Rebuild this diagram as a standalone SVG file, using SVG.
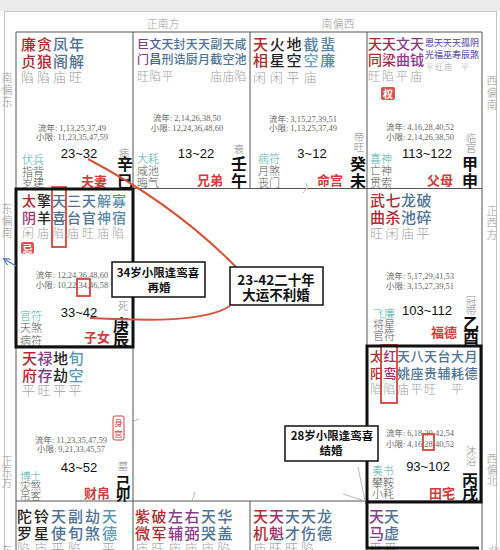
<svg xmlns="http://www.w3.org/2000/svg" width="500" height="550" viewBox="0 0 500 550">
<defs>
<style>
text{font-family:"Noto Sans CJK SC","Noto Sans",sans-serif;}
.st{font-size:15px;font-weight:500;}
.r{fill:#b02a2e}.k{fill:#222}.p{fill:#8a3a8a}.m{fill:#a0306a}.b{fill:#4f7394}.t{fill:#5a9ab0}.v{fill:#6a5ab0}
.br{font-size:13px;fill:#a0a0a0;font-weight:300}
.ln{font-family:"Liberation Serif","Noto Sans CJK SC",serif;font-size:8.5px;fill:#666;text-anchor:middle}
.rg{font-family:"Liberation Sans",sans-serif;font-size:13px;fill:#111;text-anchor:middle}
.ls{font-size:10.5px;fill:#8a8a8a;font-weight:300}
.sb{font-size:16px;fill:#111;font-weight:700}
.cs{text-anchor:middle}
.gd{font-size:11px;fill:#555;font-weight:300}
.gt{fill:#4fb0a8}
.pn{font-size:13px;font-weight:700;fill:#d23c3c;text-anchor:end}
.dir{font-size:11px;fill:#9a9a9a;text-anchor:middle;font-weight:300}
.grid{stroke:#555;stroke-width:1;fill:none}
.thick{stroke:#111;stroke-width:3;fill:none}
.hl{stroke:#d9433a;stroke-width:1.8;fill:none}
.badge{fill:#d9534f}
.bt{font-size:10px;fill:#fff;text-anchor:middle;font-weight:700}
.ann{font-weight:700;fill:#111;text-anchor:middle}
.abox{fill:#fff;stroke:#111;stroke-width:1.5}
.curve{stroke:#d2553c;stroke-width:2;fill:none}
.tri{stroke:#b8b8b8;stroke-width:1;fill:none}
</style>
<marker id="ah" viewBox="0 0 10 10" refX="9" refY="5" markerWidth="6" markerHeight="6" orient="auto-start-reverse">
<path d="M0 0 L10 5 L0 10" fill="none" stroke="#4a7ab0" stroke-width="1.5"/>
</marker>
</defs>
<rect x="0" y="0" width="500" height="550" fill="#fff"/>
<rect x="0" y="0" width="500" height="11" fill="#ececec"/>
<rect x="4.5" y="11.5" width="492" height="560" fill="none" stroke="#c4c4c4" stroke-width="1"/>

<g id="directions">
<text class="dir" x="163" y="28">正南方</text>
<text class="dir" x="338" y="28">南偏西</text>
<text class="dir" x="7" y="82">南<tspan x="7" dy="12">偏</tspan><tspan x="7" dy="12">东</tspan></text>
<text class="dir" x="492" y="85">西<tspan x="492" dy="12">偏</tspan><tspan x="492" dy="12">南</tspan></text>
<text class="dir" x="7" y="213">东<tspan x="7" dy="12">偏</tspan><tspan x="7" dy="12">南</tspan></text>
<text class="dir" x="492" y="215">正<tspan x="492" dy="12">西</tspan><tspan x="492" dy="12">方</tspan></text>
<text class="dir" x="7" y="465">正<tspan x="7" dy="11">东</tspan><tspan x="7" dy="11">方</tspan></text>
<text class="dir" x="492" y="463">西<tspan x="492" dy="11">偏</tspan><tspan x="492" dy="11">北</tspan></text>
<text class="dir" x="7" y="555">东</text>
<text class="dir" x="494" y="555">北</text>
</g>

<g id="grid">
<path class="grid" d="M16 32H482M16 188.5H482M16 346H133M367 346H482M16 501H482M16 32V560M133 32V560M250 32V188.5M250 501V560M367 32V560M482 32V560"/>
</g>

<g id="palace-fuqi">
<text class="st" x="21" y="50" letter-spacing="1"><tspan class="r">廉贪</tspan><tspan class="b">凤年</tspan><tspan x="21" dy="17" class="r">贞狼</tspan><tspan class="b">阁解</tspan><tspan x="21" dy="15" class="br" letter-spacing="3">陷陷庙旺</tspan></text>
<text class="ln" x="72" y="131">流年: 1,13,25,37,49<tspan x="72" dy="9">小限: 11,23,35,47,59</tspan></text>
<text class="rg" x="79" y="158">23~32</text>
<text class="cs" x="124" y="157"><tspan class="ls">病</tspan><tspan class="sb" x="125" dy="13">辛</tspan><tspan class="sb" x="125" dy="17">巳</tspan></text>
<text class="gd" x="22" y="164"><tspan class="gt">伏兵</tspan><tspan x="22" dy="11.5">指背</tspan><tspan x="22" dy="11.5">岁建</tspan></text>
<text class="pn" x="107" y="186">夫妻</text>
</g>

<g id="palace-xiongdi">
<text class="st" x="137" y="49" style="font-size:12px" letter-spacing="0.2"><tspan class="p">巨</tspan><tspan fill="#4a5aa0">文</tspan><tspan class="b">天封天天副天咸</tspan><tspan x="137" dy="15" class="p">门</tspan><tspan fill="#4a5aa0">昌</tspan><tspan class="b">刑诰厨月截空池</tspan><tspan x="137" dy="17" class="br" style="font-size:12px">旺陷平</tspan><tspan x="210" class="br" style="font-size:12px">庙庙陷</tspan></text>
<text class="ln" x="187" y="121">流年: 2,14,26,38,50<tspan x="187" dy="10">小限: 12,24,36,48,60</tspan></text>
<text class="rg" x="196" y="158">13~22</text>
<text class="cs" x="239" y="153"><tspan class="ls">衰</tspan><tspan class="sb" x="239" dy="17">壬</tspan><tspan class="sb" x="239" dy="17">午</tspan></text>
<text class="gd" x="137" y="163"><tspan class="gt">大耗</tspan><tspan x="137" dy="12">咸池</tspan><tspan x="137" dy="12">晦气</tspan></text>
<text class="pn" x="223" y="185">兄弟</text>
</g>

<g id="palace-ming">
<text class="st" x="253" y="50" letter-spacing="1.8"><tspan class="r">天</tspan><tspan class="k">火地</tspan><tspan fill="#5a86a8">截蜚</tspan><tspan x="253" dy="16" class="r">相</tspan><tspan class="k">星空</tspan><tspan fill="#6aa4b8">空</tspan><tspan fill="#5a86a8">廉</tspan><tspan x="253" dy="16" class="br" letter-spacing="3.8">闲闲平庙</tspan></text>
<text class="ln" x="303" y="122">流年: 3,15,27,39,51<tspan x="303" dy="9">小限: 1,13,25,37,49</tspan></text>
<text class="rg" x="312" y="158">3~12</text>
<text class="cs" x="359" y="141"><tspan class="ls">帝</tspan><tspan class="ls" x="359" dy="10">旺</tspan><tspan class="sb" x="358" dy="19">癸</tspan><tspan class="sb" x="358" dy="17">未</tspan></text>
<text class="gd" x="258" y="163"><tspan class="gt">病符</tspan><tspan x="258" dy="12">月煞</tspan><tspan x="258" dy="12">丧门</tspan></text>
<text class="pn" x="343" y="185">命宫</text>
</g>

<g id="palace-fumu">
<text class="st" x="368" y="49" style="font-size:14px"><tspan class="r">天</tspan><tspan fill="#9a3050">天</tspan><tspan class="p">文天</tspan><tspan x="425" dy="-3" class="v" style="font-size:9px">恩天天天孤阴</tspan><tspan x="368" dy="19" class="r">同</tspan><tspan fill="#9a3050">梁</tspan><tspan class="p">曲钺</tspan><tspan x="425" dy="-7" class="v" style="font-size:9px">光福巫寿辰煞</tspan><tspan x="426" dy="12" class="br" style="font-size:8px" letter-spacing="1">平旺庙</tspan><tspan x="461" class="br" style="font-size:8px">平</tspan><tspan x="368" dy="11" class="br" style="font-size:12px" letter-spacing="2">旺陷平庙</tspan></text>
<rect class="badge" x="381" y="87" width="14" height="13" rx="2"/>
<text class="bt" x="388" y="97.5">权</text>
<text class="ln" x="420" y="130">流年: 4,16,28,40,52<tspan x="420" dy="10">小限: 2,14,26,38,50</tspan></text>
<text class="rg" x="427" y="158">113~122</text>
<text class="cs" x="471" y="142"><tspan class="ls">临</tspan><tspan class="ls" x="471" dy="10">官</tspan><tspan class="sb" x="470" dy="18">甲</tspan><tspan class="sb" x="470" dy="17">申</tspan></text>
<text class="gd" x="370" y="163"><tspan class="gt">喜神</tspan><tspan x="370" dy="12">亡神</tspan><tspan x="370" dy="12">贯索</tspan></text>
<text class="pn" x="453" y="185">父母</text>
</g>

<g id="palace-zinv">
<text class="st" x="22" y="206" style="font-size:14px" letter-spacing="1"><tspan class="r">太</tspan><tspan class="k">擎</tspan><tspan class="b">天三天</tspan><tspan fill="#5a8aa8">解寡</tspan><tspan x="22" dy="17" class="m">阴</tspan><tspan class="k">羊</tspan><tspan class="b">喜台官</tspan><tspan fill="#5a8aa8">神宿</tspan><tspan x="22" dy="15" class="br" style="font-size:12px" letter-spacing="3">闲庙陷庙旺庙陷</tspan></text>
<rect class="hl" x="52" y="187" width="14" height="60"/>
<rect class="badge" x="21" y="242" width="13" height="12" rx="2"/>
<text class="bt" x="27.5" y="252.5">忌</text>
<text class="ln" x="72" y="278">流年: 12,24,36,48,60<tspan x="72" dy="10">小限: 10,22,34,46,58</tspan></text>
<rect class="hl" x="77" y="279" width="13" height="17"/>
<text class="rg" x="79" y="317">33~42</text>
<text class="cs" x="123" y="310"><tspan class="ls">死</tspan><tspan class="sb" x="121" dy="21">庚</tspan><tspan class="sb" x="121" dy="15">辰</tspan></text>
<text class="gd" x="20" y="320"><tspan class="gt">官符</tspan><tspan x="20" dy="12">天煞</tspan><tspan x="20" dy="13">病符</tspan></text>
<text class="pn" x="110" y="342">子女</text>
</g>

<g id="palace-fude">
<text class="st" x="370" y="206" letter-spacing="0.5"><tspan class="r">武七</tspan><tspan class="b">龙破</tspan><tspan x="370" dy="17" class="r">曲杀</tspan><tspan class="b">池碎</tspan><tspan x="370" dy="15" class="br" letter-spacing="2.5">旺闲庙平</tspan></text>
<text class="ln" x="420" y="279">流年: 5,17,29,41,53<tspan x="420" dy="10">小限: 3,15,27,39,51</tspan></text>
<text class="rg" x="427" y="315">103~112</text>
<text class="cs" x="471" y="305"><tspan class="ls">冠</tspan><tspan class="ls" x="471" dy="10">带</tspan><tspan class="sb" x="471" dy="15">乙</tspan><tspan class="sb" x="471" dy="13">酉</tspan></text>
<text class="gd" x="373" y="318"><tspan class="gt">飞廉</tspan><tspan x="373" dy="11">将星</tspan><tspan x="373" dy="11">官符</tspan></text>
<text class="pn" x="457" y="337">福德</text>
</g>

<g id="palace-caibo">
<text class="st" x="22" y="364" letter-spacing="0.5"><tspan class="r">天</tspan><tspan class="p">禄</tspan><tspan class="k">地</tspan><tspan class="t">旬</tspan><tspan x="22" dy="17" class="r">府</tspan><tspan class="p">存</tspan><tspan class="k">劫</tspan><tspan class="t">空</tspan><tspan x="22" dy="14" class="br" letter-spacing="2.5">平旺平平</tspan></text>
<rect x="113" y="416" width="11" height="24" rx="2" fill="#fff" stroke="#d04040" stroke-width="1"/>
<text x="118.5" y="426" style="font-size:8.5px;fill:#d04040;text-anchor:middle">身<tspan x="118.5" dy="11">宫</tspan></text>
<text class="ln" x="71" y="443">流年: 11,23,35,47,59<tspan x="71" dy="9">小限: 9,21,33,45,57</tspan></text>
<text class="rg" x="79" y="472">43~52</text>
<text class="cs" x="123" y="470"><tspan class="ls">墓</tspan><tspan class="sb" x="123" dy="18" style="font-size:15px">己</tspan><tspan class="sb" x="123" dy="12" style="font-size:15px">卯</tspan></text>
<text class="gd" x="20" y="480" style="font-size:10.5px"><tspan class="gt">博士</tspan><tspan x="20" dy="10">灾煞</tspan><tspan x="20" dy="10">吊客</tspan></text>
<text class="pn" x="110" y="498">财帛</text>
</g>

<g id="palace-tianzhai">
<text class="st" x="370" y="361" style="font-size:13px" letter-spacing="0.5"><tspan class="r">太</tspan><tspan class="m">红</tspan><tspan class="b">天八天台大月</tspan><tspan x="370" dy="17" class="r">阳</tspan><tspan class="m">鸾</tspan><tspan class="b">姚座贵辅耗德</tspan><tspan x="370" dy="16" class="br" style="font-size:12px" letter-spacing="1.5">陷陷庙平旺</tspan><tspan x="451" class="br" style="font-size:12px">平</tspan></text>
<rect class="hl" x="381" y="345" width="16" height="58"/>
<text class="ln" x="420" y="436">流年: 6,18,30,42,54<tspan x="420" dy="11">小限: 4,16,28,40,52</tspan></text>
<rect class="hl" x="423" y="434" width="11" height="16"/>
<text class="rg" x="428" y="471">93~102</text>
<text class="cs" x="471" y="455"><tspan class="ls">沐</tspan><tspan class="ls" x="471" dy="10">浴</tspan><tspan class="sb" x="470" dy="21">丙</tspan><tspan class="sb" x="470" dy="14">戌</tspan></text>
<text class="gd" x="372" y="475"><tspan class="gt">奏书</tspan><tspan x="372" dy="12">攀鞍</tspan><tspan x="372" dy="11">小耗</tspan></text>
<text class="pn" x="455" y="498">田宅</text>
</g>

<g id="palace-yin">
<text class="st" x="17" y="522" letter-spacing="2"><tspan class="k">陀铃</tspan><tspan class="b">天副劫</tspan><tspan class="t">天</tspan><tspan x="17" dy="17" class="k">罗星</tspan><tspan class="b">使旬煞</tspan><tspan class="t">德</tspan><tspan x="17" dy="14" class="br" letter-spacing="4">陷庙平陷</tspan><tspan x="102" class="br">平</tspan></text>
</g>

<g id="palace-chou">
<text class="st" x="135" y="522" letter-spacing="1.5"><tspan class="r">紫破</tspan><tspan class="p">左右</tspan><tspan class="b">天华</tspan><tspan x="135" dy="17" class="r">微军</tspan><tspan class="p">辅弼</tspan><tspan class="b">哭盖</tspan><tspan x="135" dy="14" class="br" letter-spacing="3.5">庙旺庙庙庙陷</tspan></text>
</g>

<g id="palace-zi">
<text class="st" x="253" y="522" letter-spacing="1"><tspan class="r">天</tspan><tspan class="m">天</tspan><tspan class="b">天天龙</tspan><tspan x="253" dy="17" class="r">机</tspan><tspan class="m">魁</tspan><tspan class="b">才伤德</tspan><tspan x="253" dy="14" class="br" letter-spacing="3">庙旺旺陷</tspan></text>
</g>

<g id="palace-hai">
<text class="st" x="369" y="522"><tspan class="p">天</tspan><tspan class="b">天</tspan><tspan x="369" dy="17" class="p">马</tspan><tspan class="b">虚</tspan><tspan x="369" dy="14" class="br" letter-spacing="2">平平</tspan></text>
</g>

<g id="highlights">
<rect class="thick" x="16" y="189" width="117" height="158"/>
<rect class="thick" x="367" y="346" width="114" height="156"/>
<path class="thick" d="M367 502V548H479"/>
</g>

<g id="connectors">
<path class="curve" d="M88 159 Q175 205 236 267"/>
<path class="curve" d="M90 318 C150 321 205 322 230 306"/>
<path class="tri" d="M358 467L365 501M343 494L365 501M195 492L192 501M306 183L308 190M303 193L307 188M134 421L139 419"/>
<path d="M16 266L4 259" stroke="#4a7ab0" stroke-width="1.2" fill="none" marker-end="url(#ah)"/>
</g>

<g id="note-34">
<rect class="abox" x="112" y="262" width="93" height="35"/>
<text class="ann" x="158" y="277" style="font-size:11.5px">34岁小限逢鸾喜<tspan x="159" dy="15">再婚</tspan></text>
</g>
<g id="note-2342">
<rect class="abox" x="230" y="267" width="93" height="38"/>
<text class="ann" x="276" y="285" style="font-size:13.5px">23-42二十年<tspan x="276" dy="15">大运不利婚</tspan></text>
</g>
<g id="note-28">
<rect class="abox" x="285" y="426" width="93" height="35"/>
<text class="ann" x="332" y="440" style="font-size:11.5px">28岁小限逢鸾喜<tspan x="331" dy="15">结婚</tspan></text>
</g>
</svg>
